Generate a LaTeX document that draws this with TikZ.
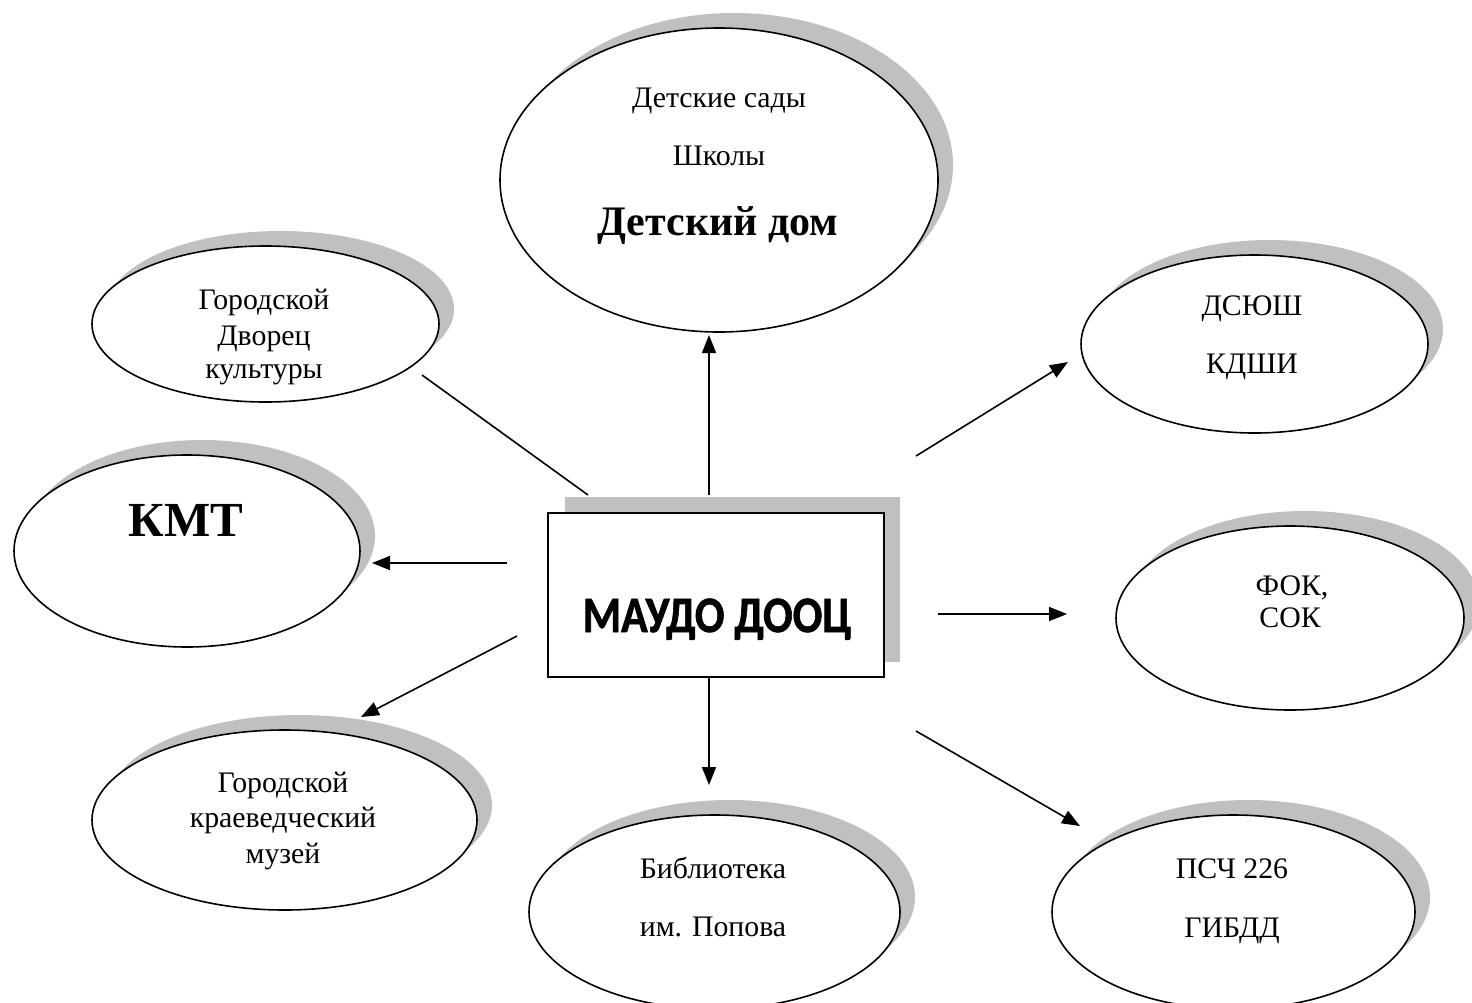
\documentclass[tikz,border=0pt]{standalone}
\usepackage{graphicx}
\usepackage{fontspec}
\setmainfont{Liberation Serif}
\newfontfamily\calibriheavy[FakeBold=1.3]{Carlito Bold}
\usetikzlibrary{shapes.geometric,arrows.meta}
\definecolor{shadowgray}{HTML}{C0C0C0}
\newcommand{\narrowtext}[1]{\scalebox{0.86}[1]{#1}}
\begin{document}
\begin{tikzpicture}[x=1pt,y=-1pt,
  oval/.style={ellipse, draw=black, line width=1.6pt, fill=white, inner sep=0pt},
  ovalshadow/.style={fill=shadowgray},
  mainbox/.style={rectangle, draw=black, line width=1.6pt, fill=white, inner sep=0pt},
  txt/.style={anchor=base, inner sep=0pt, font=\fontsize{29.8}{34}\selectfont},
  boldtxt/.style={anchor=base, inner sep=0pt, font=\fontsize{42}{48}\selectfont\bfseries},
  kmttxt/.style={anchor=base, inner sep=0pt, font=\fontsize{49}{56}\selectfont\bfseries},
  maintxt/.style={anchor=base, inner sep=0pt, font=\fontsize{51}{58}\selectfont\calibriheavy},
  conn/.style={line width=1.6pt},
  arr/.style={conn, -{Triangle[length=18pt,width=14pt]}},
]
\useasboundingbox (0,0) rectangle (1472,1002);

% shadows
\fill[ovalshadow] (734,165) ellipse [x radius=219pt, y radius=152pt];
\fill[ovalshadow] (280.5,309) ellipse [x radius=173.5pt, y radius=78pt];
\fill[ovalshadow] (202,536) ellipse [x radius=173pt, y radius=96pt];
\fill[ovalshadow] (1269.5,329) ellipse [x radius=173.5pt, y radius=89pt];
\fill[ovalshadow] (1305,603) ellipse [x radius=174pt, y radius=92pt];
\fill[ovalshadow] (299.5,805) ellipse [x radius=192.5pt, y radius=90pt];
\fill[ovalshadow] (729.5,897) ellipse [x radius=185.5pt, y radius=97pt];
\fill[ovalshadow] (1248.5,897) ellipse [x radius=181.5pt, y radius=97pt];
\fill[shadowgray] (565,497) rectangle (900,662);

% ellipses
\node[oval, minimum width=438pt, minimum height=304pt] (sad) at (719,180) {};
\node[oval, minimum width=347pt, minimum height=156pt] (dvorec) at (265.5,324) {};
\node[oval, minimum width=346pt, minimum height=192pt] (kmt) at (187,551) {};
\node[oval, minimum width=347pt, minimum height=178pt] (dsyush) at (1254.5,344) {};
\node[oval, minimum width=348pt, minimum height=184pt] (fok) at (1290,618) {};
\node[oval, minimum width=385pt, minimum height=180pt] (muzei) at (284.5,820) {};
\node[oval, minimum width=371pt, minimum height=194pt] (bibl) at (714.5,912) {};
\node[oval, minimum width=363pt, minimum height=194pt] (psch) at (1233.5,912) {};

% main box
\node[mainbox, minimum width=336pt, minimum height=164pt] (main) at (716,595) {};

% texts
\node[txt] (sad1) at (719,107) {Детские сады};
\node[txt] (sad2) at (719,165) {Школы};
\node[boldtxt] (sad3) at (718,235) {Детский дом};

\node[txt] (dv1) at (264,309) {Городской};
\node[txt] (dv2) at (264,345) {Дворец};
\node[txt] (dv3) at (264,378) {культуры};

\node[kmttxt] (kmt1) at (186,536) {КМТ};

\node[txt] (ds1) at (1252,315) {ДСЮШ};
\node[txt] (ds2) at (1252,373) {КДШИ};

\node[txt] (fok1) at (1292,595) {ФОК,};
\node[txt] (fok2) at (1290,627) {СОК};

\node[txt] (mu1) at (283,792) {Городской};
\node[txt] (mu2) at (283,827) {краеведческий};
\node[txt] (mu3) at (283,863) {музей};

\node[txt] (bi1) at (713,878) {Библиотека};
\node[txt] (bi2) at (713,936) {им. Попова};

\node[txt] (ps1) at (1232,878) {ПСЧ 226};
\node[txt] (ps2) at (1232,937) {ГИБДД};

\node[maintxt] (maintext) at (717,632) {\narrowtext{МАУДО ДООЦ}};

% connector end points
\coordinate (upS) at (709,495);
\coordinate (upE) at (709,335);
\coordinate (dnS) at (709,677);
\coordinate (dnE) at (709,785);
\coordinate (kmtS) at (507,563);
\coordinate (kmtE) at (372,563);
\coordinate (fokS) at (938,614);
\coordinate (fokE) at (1067,614);
\coordinate (dsS) at (916,456);
\coordinate (dsE) at (1068,362);
\coordinate (psS) at (916,731);
\coordinate (psE) at (1080,826);
\coordinate (muS) at (517,636);
\coordinate (muE) at (361,717);
\coordinate (dvS) at (588,495);
\coordinate (dvE) at (422,375);

\draw[arr] (upS) -- (upE);
\draw[arr] (dnS) -- (dnE);
\draw[arr] (kmtS) -- (kmtE);
\draw[arr] (fokS) -- (fokE);
\draw[arr] (dsS) -- (dsE);
\draw[arr] (psS) -- (psE);
\draw[arr] (muS) -- (muE);
\draw[conn] (dvS) -- (dvE);
\end{tikzpicture}
\end{document}
